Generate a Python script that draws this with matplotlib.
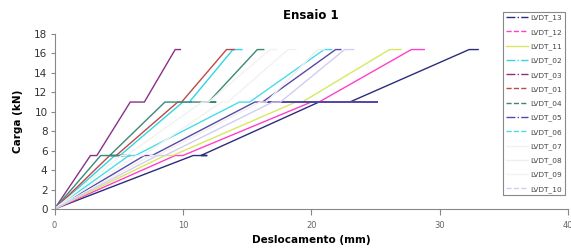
import matplotlib
matplotlib.use("Agg")
import matplotlib.pyplot as plt
from matplotlib.lines import Line2D

# load steps (kN): ramp, hold, back, ramp, hold, back, ramp, end
carga = [0, 5.5, 5.5, 5.5, 11.0, 11.0, 11.0, 16.4, 16.4]

# displacement (mm) at each point of carga, per LVDT
lvdt_13 = [0, 10.8, 11.9, 11.4, 20.6, 23.0, 23.0, 32.3, 33.0]
lvdt_12 = [0, 9.4, 10.0, 10.0, 20.0, 20.6, 20.6, 27.8, 28.8]
lvdt_11 = [0, 8.6, 9.2, 9.2, 18.8, 19.3, 19.3, 26.1, 27.0]
lvdt_02 = [0, 4.7, 5.3, 5.1, 10.0, 10.7, 10.5, 13.9, 14.6]
lvdt_03 = [0, 2.8, 3.3, 3.3, 5.9, 7.0, 7.0, 9.4, 9.8]
lvdt_01 = [0, 4.3, 4.8, 4.8, 9.6, 9.9, 9.9, 13.4, 14.0]
lvdt_04 = [0, 3.6, 5.9, 4.3, 8.6, 12.6, 12.0, 15.8, 16.3]
lvdt_05 = [0, 7.0, 7.6, 7.6, 15.6, 25.2, 16.2, 21.9, 22.3]
lvdt_06 = [0, 5.8, 6.3, 6.3, 14.4, 15.2, 15.2, 21.0, 21.6]
lvdt_07 = [0, 6.4, 6.9, 6.9, 13.0, 13.5, 13.5, 18.2, 18.8]
lvdt_08 = [0, 7.5, 8.0, 8.0, 16.0, 16.5, 16.5, 20.5, 21.0]
lvdt_09 = [0, 5.2, 5.6, 5.6, 11.5, 12.0, 12.0, 16.8, 17.3]
lvdt_10 = [0, 8.0, 8.6, 8.6, 17.0, 17.6, 17.6, 22.6, 23.3]

nomes = ["LVDT_13", "LVDT_12", "LVDT_11", "LVDT_02", "LVDT_03", "LVDT_01", "LVDT_04",
         "LVDT_05", "LVDT_06", "LVDT_07", "LVDT_08", "LVDT_09", "LVDT_10"]
dados = [lvdt_13, lvdt_12, lvdt_11, lvdt_02, lvdt_03, lvdt_01, lvdt_04,
         lvdt_05, lvdt_06, lvdt_07, lvdt_08, lvdt_09, lvdt_10]
cores = ["#2c2c7c", "#ff40c8", "#d8e860", "#30d4e4", "#8a3088", "#c04848", "#3c8878",
         "#5848a8", "#48dce8", "#f2f2f2", "#eeeeee", "#f2f2f2", "#d4ccf0"]
estilos = ["-.", "--", "-", "-.", "-.", "--", "--", "-.", "--", "-", "-", "-", "--"]

fig = plt.figure(figsize=(5.71, 2.52), dpi=100)
ax = fig.add_axes([54.5 / 571, 1 - 209 / 252, (568 - 54.5) / 571, (209 - 34) / 252])

for x, c in zip(dados, cores):
    ax.plot(x, carga, color=c, lw=1.0, solid_joinstyle="miter")

ax.set_xlim(0, 40)
ax.set_ylim(0, 18)
ax.set_xticks([0, 10, 20, 30, 40])
ax.set_yticks(range(0, 19, 2))
for s in ["top", "right"]:
    ax.spines[s].set_visible(False)
for s in ["left", "bottom"]:
    ax.spines[s].set_color("#888888")
    ax.spines[s].set_linewidth(0.8)
ax.tick_params(axis="y", labelsize=7.5, colors="#888888", labelcolor="#333333", length=3, pad=2)
ax.tick_params(axis="x", labelsize=6, colors="#888888", labelcolor="#666666", length=4, pad=5)

ax.set_title("Ensaio 1", fontsize=8.5, fontweight="bold", pad=11)
ax.set_xlabel("Deslocamento (mm)", fontsize=7.5, fontweight="bold", labelpad=3)
ax.set_ylabel("Carga (kN)", fontsize=7.5, fontweight="bold", labelpad=8)

handles = [Line2D([0], [0], color=c, ls=ls, lw=1.0) for c, ls in zip(cores, estilos)]
leg = fig.legend(handles, nomes, loc="upper left", bbox_to_anchor=(503 / 571, 1 - 12 / 252),
                 fontsize=5.3, frameon=True, fancybox=False, edgecolor="#888888",
                 framealpha=1, handlelength=3.0, handletextpad=0.4, labelspacing=1.0,
                 borderpad=0.35, borderaxespad=0)
leg.get_frame().set_linewidth(0.8)
for t in leg.get_texts():
    t.set_color("#444444")

fig.savefig("out.png", dpi=100)
